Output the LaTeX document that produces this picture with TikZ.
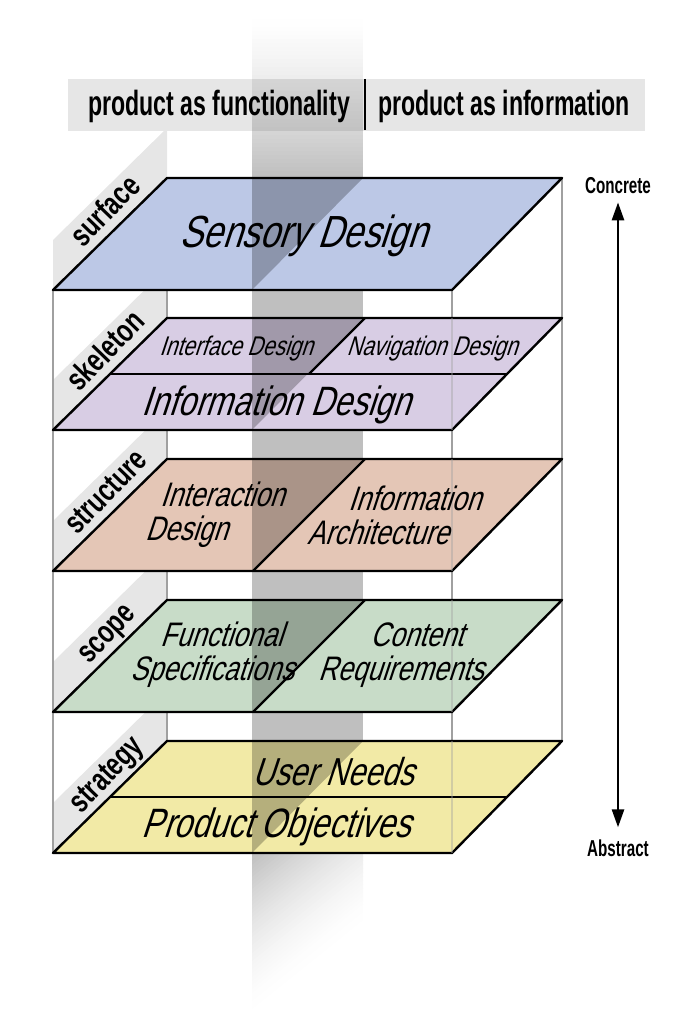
\documentclass[tikz,border=0pt]{standalone}
\usepackage{fontspec}
\newfontfamily\headfont[FakeStretch=0.66]{Liberation Sans}
\newfontfamily\wallfont[FakeStretch=0.74]{Liberation Sans}
\newfontfamily\planefont[FakeStretch=0.78,FakeSlant=0.33]{Liberation Sans}
\usetikzlibrary{arrows.meta}
\definecolor{surfacecol}{HTML}{BCC8E6}
\definecolor{skeletoncol}{HTML}{D8CDE4}
\definecolor{structurecol}{HTML}{E4C6B6}
\definecolor{scopecol}{HTML}{C8DCC8}
\definecolor{strategycol}{HTML}{F2EAA6}
\definecolor{wallgray}{HTML}{E6E6E6}
\definecolor{pillargray}{HTML}{A0A0A0}
\tikzset{
  plane/.style={draw=black, line width=2.4pt, line join=round},
  wall/.style={fill=wallgray},
  pillar/.style={draw=pillargray, line width=2.4pt},
  shadow/.style={fill=black, fill opacity=.25},
  layer/.style={font=\wallfont\bfseries\fontsize{32}{32}\selectfont, rotate=46, anchor=base, inner sep=0pt},
  task/.style={font=\planefont\fontsize{34}{34}\selectfont, inner sep=0pt},
  side/.style={font=\headfont\bfseries\fontsize{35}{35}\selectfont, inner sep=0pt},
  pole/.style={font=\headfont\bfseries\fontsize{23}{23}\selectfont, inner sep=0pt},
}
\begin{document}
\begin{tikzpicture}[x={(1pt,0pt)},y={(0pt,-1pt)}]% ------ Plans -----------------
    \useasboundingbox (0,0) rectangle (683,1024);
    % murs de gauche
    \foreach \t in {178,318,459,600,741}
      \fill[wall] (53,\t+112) -- (53,\t+62) -- (167,\t-50) -- (167,\t) -- cycle;
    \fill[wallgray] (68,79) rectangle (645,131);
    % colonne
    \foreach \i in {0,...,40}{
      \pgfmathsetmacro\p{25*(\i/40)^1.3}
      \pgfmathtruncatemacro\y{15+4*\i}
      \ifnum\y>76 \ifnum\y<128 \def\base{wallgray}\else\def\base{white}\fi\else\def\base{white}\fi
      \fill[black!\p!\base] (252,\y) rectangle (363,\y+5);
    }
    \fill[black!25] (252,178) rectangle (363,853);
    \begin{scope}
      \clip (252,853) rectangle (363,1014);
      \foreach \i in {0,...,40}{
        \pgfmathsetmacro\p{25*(1-\i/40)^1.6}
        \fill[black!\p!white] (252,853+4*\i) -- (363,764+4*\i) -- (363,769+4*\i) -- (252,858+4*\i) -- cycle;
      }
    \end{scope}
    \node[side] (functionality) at (219,106) {product as functionality};
    \node[side] (information) at (504,106) {product as information};
    \draw [line width=1.6pt] (365,79) -- (365,130);
    % aretes
    \draw [pillar] (167,178) -- (167,741);
    \draw [pillar] (562,178) -- (562,741);
    \draw [pillar] (53,290) -- (53,853);
    \draw [pillar] (452,290) -- (452,853);
    % surface
    \fill [surfacecol] (167,178) -- (562,178) -- (452,290) -- (53,290) -- cycle;
    \fill [shadow] (252,178) -- (363,178) -- (252,290) -- cycle;
    \draw [plane] (167,178) -- (562,178) -- (452,290) -- (53,290) -- cycle;
    % skeleton
    \fill [skeletoncol] (167,318) -- (562,318) -- (452,430) -- (53,430) -- cycle;
    \fill [shadow] (252,318) -- (363,318) -- (252,430) -- cycle;
    \draw [plane] (167,318) -- (562,318) -- (452,430) -- (53,430) -- cycle;
    \draw [plane] (110,374) -- (507,374);
    \draw [plane] (365,318) -- (309,374);
    % structure
    \fill [structurecol] (167,459) -- (562,459) -- (452,571) -- (53,571) -- cycle;
    \fill [shadow] (252,459) -- (363,459) -- (252,571) -- cycle;
    \draw [plane] (167,459) -- (562,459) -- (452,571) -- (53,571) -- cycle;
    \draw [plane] (365,459) -- (253,571);
    % scope
    \fill [scopecol] (167,600) -- (562,600) -- (452,712) -- (53,712) -- cycle;
    \fill [shadow] (252,600) -- (363,600) -- (252,712) -- cycle;
    \draw [plane] (167,600) -- (562,600) -- (452,712) -- (53,712) -- cycle;
    \draw [plane] (365,600) -- (253,712);
    % strategy
    \fill [strategycol] (167,741) -- (562,741) -- (452,853) -- (53,853) -- cycle;
    \fill [shadow] (252,741) -- (363,741) -- (252,853) -- cycle;
    \draw [plane] (167,741) -- (562,741) -- (452,853) -- (53,853) -- cycle;
    \draw [plane] (110,797) -- (507,797);
    \draw [pillar, opacity=.4] (452,318) -- (452,430) (452,459) -- (452,571) (452,600) -- (452,712) (452,741) -- (452,853);
    % textes
    \node[layer] (surface) at (113,218) {surface};
    \node[layer] (skeleton) at (113,358) {skeleton};
    \node[layer] (structure) at (113,499) {structure};
    \node[layer] (scope) at (113,640) {scope};
    \node[layer] (strategy) at (113,781) {strategy};
    \node[task, font=\planefont\fontsize{45}{45}\selectfont] (sensory) at (303,236) {Sensory Design};
    \node[task, font=\planefont\fontsize{27}{27}\selectfont] (interface) at (236,349) {Interface Design};
    \node[task, font=\planefont\fontsize{27}{27}\selectfont] (navigation) at (432,349) {Navigation Design};
    \node[task, font=\planefont\fontsize{41}{41}\selectfont] (infodesign) at (276,405) {Information Design};
    \node[task, align=left, anchor=west] (interaction) at (145,515) {\hspace*{15pt}Interaction\\Design};
    \node[task, align=left, anchor=west] (infoarch) at (307,515) {\hspace*{41pt}Information\\Architecture};
    \node[task, align=left, anchor=west] (functional) at (130,655) {\hspace*{30pt}Functional\\Specifications};
    \node[task, align=left, anchor=west] (content) at (318,655) {\hspace*{52pt}Content\\Requirements};
    \node[task, font=\planefont\fontsize{39}{39}\selectfont] (userneeds) at (333,772) {User Needs};
    \node[task, font=\planefont\fontsize{41}{41}\selectfont] (objectives) at (276,827) {Product Objectives};
    \node[pole] (concrete) at (618,186) {Concrete};
    \node[pole] (abstract) at (618,848) {Abstract};
    \draw [{Triangle[length=18pt,width=12pt]}-{Triangle[length=18pt,width=12pt]}, line width=2.6pt, shorten <=8pt, shorten >=12pt] (concrete) -- (abstract);
\end{tikzpicture}
\end{document}
